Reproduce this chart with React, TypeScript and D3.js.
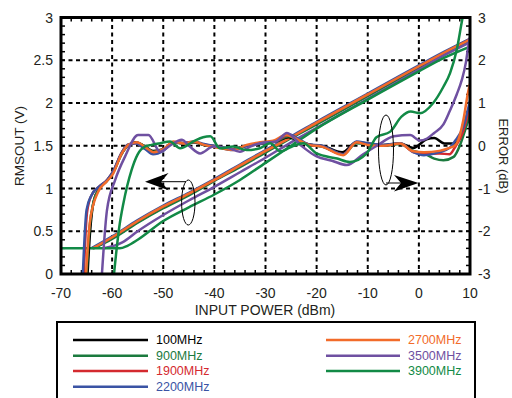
import React from "react";
import * as d3 from "d3";

type P = [number, number];

const seriesNames = ["100MHz", "900MHz", "1900MHz", "2200MHz", "2700MHz", "3500MHz", "3900MHz"];
const seriesColors = ["#000000", "#1b7a3e", "#d42a2f", "#3a53a4", "#f26b2a", "#6f50a1", "#128a46"];

const xTicks = [-70, -60, -50, -40, -30, -20, -10, 0, 10];
const leftTicks = [0, 0.5, 1, 1.5, 2, 2.5, 3];
const rightTicks = [-3, -2, -1, 0, 1, 2, 3];

// RMSOUT (V) vs input power (dBm)
const rms100: P[] = [[-63.8, 0.3], [-60, 0.42], [-55, 0.61], [-50, 0.78], [-45, 0.93], [-40, 1.1], [-35, 1.26], [-30, 1.43], [-25, 1.6], [-20, 1.76], [-10, 2.09], [0, 2.42], [5, 2.58], [10, 2.74]];
const rms900: P[] = [[-63.6, 0.3], [-60, 0.41], [-55, 0.6], [-50, 0.77], [-45, 0.92], [-40, 1.09], [-35, 1.25], [-30, 1.42], [-25, 1.59], [-20, 1.75], [-10, 2.08], [0, 2.41], [5, 2.57], [10, 2.73]];
const rms1900: P[] = [[-63.9, 0.3], [-60, 0.43], [-55, 0.62], [-50, 0.79], [-45, 0.94], [-40, 1.1], [-35, 1.27], [-30, 1.44], [-25, 1.6], [-20, 1.77], [-10, 2.1], [0, 2.43], [5, 2.59], [10, 2.75]];
const rms2200: P[] = [[-64.1, 0.3], [-60, 0.44], [-55, 0.63], [-50, 0.8], [-45, 0.95], [-40, 1.11], [-35, 1.28], [-30, 1.45], [-25, 1.61], [-20, 1.78], [-10, 2.11], [0, 2.44], [5, 2.6], [10, 2.75]];
const rms2700: P[] = [[-63.8, 0.3], [-60, 0.43], [-55, 0.62], [-50, 0.79], [-45, 0.94], [-40, 1.1], [-35, 1.27], [-30, 1.44], [-25, 1.6], [-20, 1.77], [-10, 2.1], [0, 2.43], [5, 2.59], [10, 2.74]];
const rms3500: P[] = [[-61.7, 0.3], [-58, 0.37], [-55, 0.5], [-50, 0.69], [-45, 0.86], [-40, 1.02], [-35, 1.19], [-30, 1.36], [-25, 1.54], [-20, 1.71], [-10, 2.05], [0, 2.39], [5, 2.56], [10, 2.71]];
const rms3900: P[] = [[-70, 0.3], [-58.5, 0.3], [-57, 0.33], [-55, 0.4], [-50, 0.62], [-45, 0.78], [-40, 0.93], [-35, 1.1], [-30, 1.3], [-25, 1.5], [-20, 1.7], [-10, 2.04], [0, 2.37], [5, 2.53], [10, 2.66]];

// ERROR (dB) vs input power (dBm)
const err100: P[] = [[-64.9, -3.2], [-64.3, -2.0], [-63.6, -1.3], [-62.5, -1.0], [-61, -0.82], [-59.8, -0.62], [-58.2, -0.2], [-56.8, 0.02], [-55.4, 0.08], [-53.5, -0.02], [-52, -0.12], [-50, -0.08], [-48, 0.08], [-46, 0.06], [-44, 0.08], [-42, 0.02], [-39.5, -0.02], [-36.5, -0.08], [-33.7, 0.0], [-31, 0.05], [-28, 0.1], [-25.5, 0.2], [-23, 0.08], [-21, 0.02], [-19, 0.0], [-15, -0.15], [-12.2, 0.08], [-10, 0.05], [-7, 0.02], [-3.7, 0.05], [-1.1, -0.05], [1.5, 0.15], [3, 0.18], [5, 0.05], [7, 0.05], [8.5, 0.3], [9.4, 0.53], [10, 0.65]];
const err900: P[] = [[-65.1, -3.2], [-64.4, -1.9], [-63.6, -1.3], [-62.5, -1.0], [-61, -0.82], [-59.8, -0.63], [-58.2, -0.2], [-56.8, 0.02], [-55.3, 0.07], [-53.4, -0.03], [-52, -0.14], [-50, -0.09], [-48, 0.08], [-46, 0.05], [-44, 0.08], [-42, 0.02], [-39.5, -0.03], [-36.5, -0.09], [-33.7, 0.0], [-31, 0.04], [-28, 0.1], [-25.5, 0.22], [-23, 0.08], [-21, 0.02], [-19, -0.02], [-14.8, -0.2], [-12.2, 0.06], [-10, 0.04], [-7, 0.0], [-3.7, 0.04], [-1.1, -0.12], [1, -0.18], [3, -0.3], [4.8, -0.34], [6.8, -0.26], [8, 0.0], [9, 0.35], [10, 0.75]];
const err1900: P[] = [[-65.6, -3.2], [-64.9, -1.55], [-64, -1.15], [-62.5, -0.95], [-61, -0.8], [-59.8, -0.6], [-58.3, -0.2], [-57, 0.02], [-55.5, 0.06], [-53.5, -0.07], [-52, -0.18], [-50, -0.1], [-48, 0.08], [-46, 0.06], [-44, 0.09], [-42, 0.03], [-39.5, -0.02], [-36.5, -0.09], [-33.7, 0.0], [-31, 0.05], [-28, 0.11], [-25.5, 0.25], [-23, 0.1], [-21.6, 0.03], [-19, -0.01], [-14.8, -0.2], [-12.2, 0.09], [-10, 0.05], [-7, 0.01], [-3.7, 0.05], [-1.1, -0.15], [1, -0.2], [4, -0.18], [6, -0.2], [7, -0.05], [8.7, 0.35], [10, 0.95]];
const err2200: P[] = [[-65.8, -3.2], [-65, -1.5], [-64, -1.15], [-62.5, -0.95], [-61, -0.8], [-59.8, -0.6], [-58.3, -0.2], [-57, 0.02], [-55.5, 0.06], [-53.5, -0.08], [-52, -0.2], [-50, -0.12], [-48, 0.08], [-46, 0.06], [-44, 0.1], [-42, 0.04], [-39.5, -0.02], [-36.5, -0.1], [-33.7, 0.0], [-31, 0.05], [-28, 0.12], [-25.5, 0.27], [-23, 0.12], [-21.6, 0.03], [-19, 0.0], [-14.8, -0.2], [-12.2, 0.1], [-10, 0.06], [-7, 0.02], [-3.7, 0.06], [-1.1, -0.15], [1, -0.22], [4, -0.15], [6, -0.05], [7, 0.1], [8.7, 0.45], [9.7, 0.9], [10, 1.05]];
const err2700: P[] = [[-65.2, -3.2], [-64.3, -1.74], [-62.7, -1.07], [-61.1, -0.84], [-59.8, -0.65], [-58.1, -0.18], [-56.8, 0.02], [-55.2, 0.08], [-53.2, -0.06], [-51.9, -0.15], [-50, -0.08], [-48, 0.1], [-46, 0.05], [-44, 0.1], [-42, 0.02], [-39.5, -0.04], [-36.3, -0.1], [-33.7, 0.02], [-31.1, 0.08], [-28.5, 0.12], [-26, 0.25], [-23, 0.1], [-21.6, 0.02], [-19, -0.02], [-14.8, -0.22], [-12.2, 0.08], [-10, 0.02], [-7, 0.0], [-3.7, 0.05], [-1.1, -0.13], [1, -0.15], [4, -0.12], [6, -0.05], [7, 0.0], [7.7, 0.13], [8.7, 0.6], [9.7, 1.3], [10, 1.45]];
const err3500: P[] = [[-62.1, -3.2], [-61, -1.5], [-59.4, -0.8], [-57.5, -0.26], [-54.9, 0.25], [-52.9, 0.25], [-50.6, -0.14], [-48.7, 0.0], [-46.4, 0.14], [-44.8, -0.02], [-42.8, -0.18], [-40.2, -0.02], [-37.5, -0.05], [-35, -0.14], [-33, -0.02], [-31, 0.06], [-28, 0.1], [-25.8, 0.3], [-23, 0.0], [-20, -0.25], [-17, -0.35], [-14.1, -0.45], [-10.9, -0.2], [-8.2, 0.0], [-4.9, 0.22], [-1.7, 0.25], [0.2, 0.12], [1.6, 0.17], [3, 0.3], [4.8, 0.5], [6, 0.8], [7.4, 1.2], [8.4, 1.54], [9.2, 1.95], [9.7, 2.36], [10, 2.55]];
const err3900: P[] = [[-59.8, -3.2], [-58.6, -1.9], [-57.8, -1.35], [-56.2, -0.57], [-55, -0.2], [-53.6, -0.02], [-52.3, 0.02], [-50.6, 0.06], [-48.7, 0.1], [-46.7, -0.06], [-44.1, 0.1], [-42.2, 0.2], [-40.8, 0.22], [-38.9, -0.06], [-36.3, -0.02], [-33.7, -0.1], [-31.1, -0.06], [-29.1, 0.06], [-27.1, -0.13], [-24.5, 0.0], [-22.6, 0.06], [-20, -0.18], [-16, -0.3], [-13.5, -0.38], [-10.2, -0.18], [-8.3, 0.2], [-5.6, 0.33], [-3.4, 0.68], [-1.6, 0.8], [0.2, 0.76], [2.8, 1.0], [4.8, 1.38], [6.1, 1.7], [7.4, 2.24], [8.4, 2.9], [9.2, 3.4]];

const rmsSeries = [rms100, rms900, rms1900, rms2200, rms2700, rms3500, rms3900];
const errSeries = [err100, err900, err1900, err2200, err2700, err3500, err3900];
const drawOrder = [0, 1, 2, 3, 4, 5, 6];

const W = 512;
const H = 398;
const L = 61, R = 470, T = 17.5, B = 274;
const FONT = "'Liberation Sans', Arial, Helvetica, sans-serif";

export default function App() {
  const x = d3.scaleLinear().domain([-70, 10]).range([L, R]);
  const yL = d3.scaleLinear().domain([0, 3]).range([B, T]);
  const yR = d3.scaleLinear().domain([-3, 3]).range([B, T]);

  const lineL = d3.line<P>().x((d) => x(d[0])).y((d) => yL(d[1])).curve(d3.curveMonotoneX);
  const lineR = d3.line<P>().x((d) => x(d[0])).y((d) => yR(d[1])).curve(d3.curveMonotoneX);

  const minorX = d3.range(-70, 10.001, 2);
  const minorY = d3.range(0, 3.0001, 0.1);

  const legendLeft = [0, 1, 2, 3];
  const legendRight = [4, 5, 6];
  const rowY = [340, 355.7, 371, 386.7];

  return (
    <svg width={W} height={H} style={{ position: "absolute", left: 0, top: 0, display: "block" }} fontFamily={FONT}>
      <rect x={0} y={0} width={W} height={H} fill="#fff" />
      <defs>
        <clipPath id="plotClip">
          <rect x={L} y={T} width={R - L} height={B - T} />
        </clipPath>
      </defs>

      {/* grid */}
      <g stroke="#000" strokeWidth={2} strokeDasharray="4,3.5">
        {xTicks.slice(1, -1).map((t) => (
          <line key={"gx" + t} x1={x(t)} x2={x(t)} y1={T} y2={B} />
        ))}
        {leftTicks.slice(1, -1).map((t) => (
          <line key={"gy" + t} x1={L} x2={R} y1={yL(t)} y2={yL(t)} />
        ))}
      </g>

      {/* minor ticks */}
      <g stroke="#000" strokeWidth={1.5}>
        {minorX.map((t) => (
          <g key={"mx" + t}>
            <line x1={x(t)} x2={x(t)} y1={B} y2={B - 4} />
            <line x1={x(t)} x2={x(t)} y1={T} y2={T + 4} />
          </g>
        ))}
        {minorY.map((t) => (
          <g key={"my" + t}>
            <line x1={L} x2={L + 4} y1={yL(t)} y2={yL(t)} />
            <line x1={R} x2={R - 4} y1={yL(t)} y2={yL(t)} />
          </g>
        ))}
      </g>

      {/* curves */}
      <g clipPath="url(#plotClip)" fill="none" strokeWidth={2.5} strokeLinejoin="round">
        {drawOrder.map((i) => (
          <path key={"r" + i} d={lineL(rmsSeries[i]) || ""} stroke={seriesColors[i]} />
        ))}
        {drawOrder.map((i) => (
          <path key={"e" + i} d={lineR(errSeries[i]) || ""} stroke={seriesColors[i]} />
        ))}
      </g>

      {/* annotations */}
      <g stroke="#000" fill="none" strokeWidth={1}>
        <ellipse cx={188.3} cy={202.5} rx={6.7} ry={22.5} />
        <line x1={160} x2={186} y1={181.7} y2={181.7} />
        <ellipse cx={386} cy={150} rx={7.5} ry={35} />
        <line x1={386} x2={402} y1={183} y2={183} />
      </g>
      <path d="M145,181.7 L168.5,173 L161,181.7 L168.5,190.3 Z" fill="#000" />
      <path d="M418.5,183 L394,175 L401,183 L394,191.5 Z" fill="#000" />

      {/* frame */}
      <rect x={L} y={T} width={R - L} height={B - T} fill="none" stroke="#000" strokeWidth={3} />

      {/* tick labels */}
      <g fontSize={14} fill="#231f20">
        {leftTicks.map((t) => (
          <text key={"lt" + t} x={53} y={yL(t) + 5} textAnchor="end">{t}</text>
        ))}
        {rightTicks.map((t) => (
          <text key={"rt" + t} x={478} y={yR(t) + 5} textAnchor="start">{t}</text>
        ))}
        {xTicks.map((t) => (
          <text key={"xt" + t} x={x(t)} y={298} textAnchor="middle">{t}</text>
        ))}
      </g>

      {/* axis titles */}
      <text x={265} y={315} fontSize={14} textAnchor="middle" fill="#231f20">INPUT POWER (dBm)</text>
      <text transform="translate(24,146) rotate(-90)" fontSize={13.5} textAnchor="middle" fill="#231f20">RMSOUT (V)</text>
      <text transform="translate(499,156) rotate(90)" fontSize={13} textAnchor="middle" fill="#231f20">ERROR (dB)</text>

      {/* legend */}
      <rect x={57} y={322} width={418} height={100} fill="#fff" stroke="#000" strokeWidth={2} />
      {legendLeft.map((i, k) => (
        <g key={"ll" + i}>
          <line x1={73} x2={148} y1={rowY[k]} y2={rowY[k]} stroke={seriesColors[i]} strokeWidth={2.5} />
          <text x={156} y={rowY[k] + 4.3} fontSize={12.5} fill={seriesColors[i]}>{seriesNames[i]}</text>
        </g>
      ))}
      {legendRight.map((i, k) => (
        <g key={"lr" + i}>
          <line x1={326} x2={400} y1={rowY[k]} y2={rowY[k]} stroke={seriesColors[i]} strokeWidth={2.5} />
          <text x={408} y={rowY[k] + 4.3} fontSize={12.5} fill={seriesColors[i]}>{seriesNames[i]}</text>
        </g>
      ))}
    </svg>
  );
}
